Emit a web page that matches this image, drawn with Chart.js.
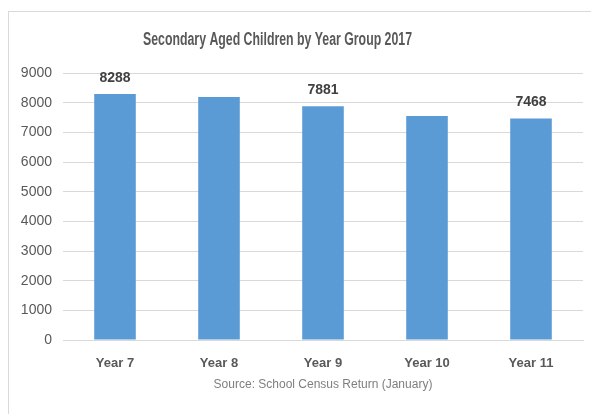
<!DOCTYPE html>
<html>
<head>
<meta charset="utf-8">
<script src="https://cdn.jsdelivr.net/npm/chart.js@4.4.1/dist/chart.umd.min.js"></script>
<style>
  html, body { margin: 0; padding: 0; background: #ffffff; }
  #wrap { position: relative; width: 591px; height: 414px; overflow: hidden; }
  #frame { position: absolute; left: 8px; top: 11px; width: 620px; height: 440px; border: 1px solid #d9d9d9; box-sizing: border-box; }
  canvas { position: absolute; left: 0; top: 0; }
</style>
</head>
<body>
<div id="wrap">
  <div id="frame"></div>
  <canvas id="c" width="591" height="414"></canvas>
</div>
<script>
const chartTitle = "Secondary Aged Children by Year Group 2017";
const sourceText = "Source: School Census Return (January)";
const categories = ["Year 7", "Year 8", "Year 9", "Year 10", "Year 11"];
const pupils = [8288, 8195, 7881, 7550, 7468];
const showLabel = [true, false, true, false, true];
const yTicks = [0, 1000, 2000, 3000, 4000, 5000, 6000, 7000, 8000, 9000];

const FONT = "'Liberation Sans', Arial, sans-serif";

const overlay = {
  id: 'overlay',
  afterDatasetsDraw(chart) {
    const ctx = chart.ctx;
    const meta = chart.getDatasetMeta(0);
    ctx.save();
    ctx.fillStyle = '#404040';
    ctx.font = 'bold 14px ' + FONT;
    ctx.textAlign = 'center';
    ctx.textBaseline = 'alphabetic';
    meta.data.forEach((bar, i) => {
      if (showLabel[i]) ctx.fillText(String(pupils[i]), bar.x, bar.y - 12);
    });
    // chart title, condensed to mimic the narrow original face
    ctx.fillStyle = '#595959';
    ctx.font = 'bold 18px ' + FONT;
    const w = ctx.measureText(chartTitle).width;
    const sx = 269 / w;
    ctx.translate(277.5, 45);
    ctx.scale(sx, 1);
    ctx.fillText(chartTitle, 0, 0);
    ctx.restore();
  }
};

new Chart(document.getElementById('c'), {
  type: 'bar',
  data: {
    labels: categories,
    datasets: [{
      data: pupils,
      backgroundColor: '#5B9BD5',
      borderWidth: 0,
      barPercentage: 0.4,
      categoryPercentage: 1.0
    }]
  },
  options: {
    responsive: false,
    animation: false,
    layout: { padding: { top: 73, right: 8, left: 0, bottom: 0 } },
    plugins: { legend: { display: false }, tooltip: { enabled: false }, title: { display: false } },
    scales: {
      x: {
        grid: { display: false, drawTicks: false },
        border: { display: true, color: '#d9d9d9', width: 1 },
        ticks: { color: '#595959', font: { family: FONT, size: 13, weight: 'bold' }, padding: 16 },
        title: { display: true, text: sourceText, color: '#7f7f7f', font: { family: FONT, size: 12 }, padding: { top: 0, bottom: 22 } },
        afterFit(s) { s.height = 74; }
      },
      y: {
        min: 0, max: 9000,
        afterBuildTicks(s) { s.ticks = yTicks.map(v => ({ value: v })); },
        grid: { color: '#d9d9d9', drawTicks: false },
        border: { display: false },
        ticks: { color: '#595959', font: { family: FONT, size: 14 }, padding: 11, callback: (v) => String(v) },
        afterFit(s) { s.width = 63; }
      }
    }
  },
  plugins: [overlay]
});
</script>
</body>
</html>
